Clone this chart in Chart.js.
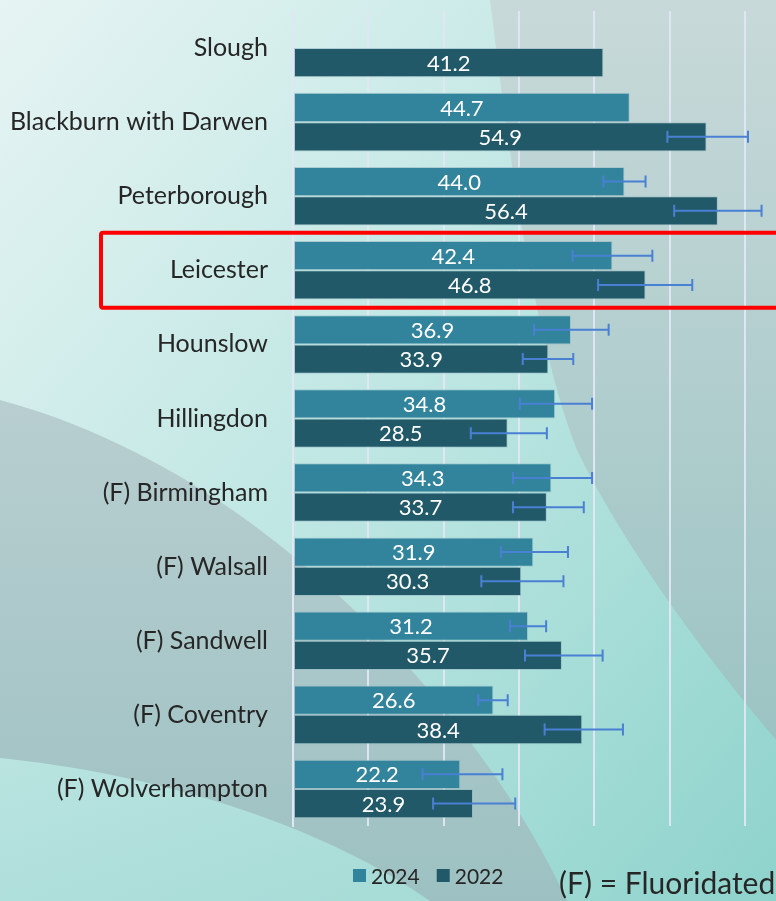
<!DOCTYPE html>
<html>
<head>
<meta charset="utf-8">
<script src="https://cdn.jsdelivr.net/npm/chart.js@4.4.1/dist/chart.umd.min.js"></script>
<style>
  html, body { margin: 0; padding: 0; }
  body { width: 776px; height: 901px; position: relative; overflow: hidden; font-family: Lato, sans-serif; }
  #bg, #chart { position: absolute; left: 0; top: 0; }
</style>
</head>
<body>
<svg id="bg" width="776" height="901" viewBox="0 0 776 901">
  <defs>
    <linearGradient id="base" x1="0" y1="0" x2="1" y2="1">
      <stop offset="0" stop-color="#e6f4f3"/>
      <stop offset="0.5" stop-color="#bde6e2"/>
      <stop offset="1" stop-color="#8ed3cc"/>
    </linearGradient>
    <linearGradient id="greyTop" x1="0" y1="0" x2="0" y2="1">
      <stop offset="0" stop-color="#c8d9d9"/>
      <stop offset="1" stop-color="#9cc3c3"/>
    </linearGradient>
    <linearGradient id="greyArc" x1="0" y1="0" x2="0" y2="1">
      <stop offset="0" stop-color="#b8ced0"/>
      <stop offset="1" stop-color="#9dc1c2"/>
    </linearGradient>
    <linearGradient id="lightArc" x1="0" y1="0" x2="1" y2="1">
      <stop offset="0" stop-color="#b9e4e0"/>
      <stop offset="1" stop-color="#a6dbd6"/>
    </linearGradient>
  </defs>
  <rect x="0" y="0" width="776" height="901" fill="url(#base)"/>
  <path d="M490,0 C505,120 530,330 577,450 C620,540 700,650 776,740 L776,0 Z" fill="url(#greyTop)"/>
  <path d="M0,400 C150,440 300,540 420,680 C480,750 530,820 567,901 L0,901 Z" fill="url(#greyArc)"/>
  <path d="M0,758 C120,770 300,810 430,901 L0,901 Z" fill="url(#lightArc)"/>
</svg>
<canvas id="chart" width="776" height="901"></canvas>
<script>
// Local authorities, top to bottom
const categories = [
  'Slough', 'Blackburn with Darwen', 'Peterborough', 'Leicester', 'Hounslow',
  'Hillingdon', '(F) Birmingham', '(F) Walsall', '(F) Sandwell', '(F) Coventry',
  '(F) Wolverhampton'
];

const values2024 = [null, 44.7, 44.0, 42.4, 36.9, 34.8, 34.3, 31.9, 31.2, 26.6, 22.2];
const values2022 = [41.2, 54.9, 56.4, 46.8, 33.9, 28.5, 33.7, 30.3, 35.7, 38.4, 23.9];

// confidence intervals
const low2024  = [null, null, 41.2, 37.1, 32.0, 30.1, 29.2, 27.6, 28.8, 24.6, 17.2];
const high2024 = [null, null, 46.8, 47.7, 41.9, 39.7, 39.7, 36.5, 33.6, 28.5, 27.8];
const low2022  = [null, 49.7, 50.6, 40.5, 30.5, 23.6, 29.2, 25.0, 30.8, 33.4, 18.6];
const high2022 = [null, 60.4, 62.2, 53.0, 37.2, 33.7, 38.6, 35.9, 41.1, 43.8, 29.5];

const xTicks = [0, 10, 20, 30, 40, 50, 60];
const highlighted = 'Leicester';

const COLORS = {
  y2024: '#31849b',
  y2022: '#215968',
  errorBar: '#4a80d4',
  grid: 'rgba(226, 230, 246, 0.95)',
  text: '#262626'
};

const FONT = 'Lato, "Open Sans", sans-serif';

// white value labels centered in each bar
const barLabels = {
  id: 'barLabels',
  afterDatasetsDraw(chart) {
    const ctx = chart.ctx;
    ctx.save();
    ctx.fillStyle = '#ffffff';
    ctx.font = '22px ' + FONT;
    ctx.textAlign = 'center';
    ctx.textBaseline = 'middle';
    chart.data.datasets.forEach((ds, i) => {
      chart.getDatasetMeta(i).data.forEach((bar, j) => {
        const v = ds.data[j];
        if (v == null) return;
        ctx.fillText(v.toFixed(1), (bar.x + bar.base) / 2, bar.y + 1);
      });
    });
    ctx.restore();
  }
};

// error bars with end caps
const errorBars = {
  id: 'errorBars',
  afterDatasetsDraw(chart) {
    const ctx = chart.ctx;
    const x = chart.scales.x;
    const ranges = [[low2024, high2024], [low2022, high2022]];
    ctx.save();
    ctx.strokeStyle = COLORS.errorBar;
    ctx.lineWidth = 2;
    chart.data.datasets.forEach((ds, i) => {
      const [lo, hi] = ranges[i];
      chart.getDatasetMeta(i).data.forEach((bar, j) => {
        if (lo[j] == null) return;
        const x1 = x.getPixelForValue(lo[j]);
        const x2 = x.getPixelForValue(hi[j]);
        const y = bar.y;
        ctx.beginPath();
        ctx.moveTo(x1, y); ctx.lineTo(x2, y);
        ctx.moveTo(x1, y - 6); ctx.lineTo(x1, y + 6);
        ctx.moveTo(x2, y - 6); ctx.lineTo(x2, y + 6);
        ctx.stroke();
      });
    });
    ctx.restore();
  }
};

// red box round the highlighted row, legend and footnote
const extras = {
  id: 'extras',
  afterDraw(chart) {
    const ctx = chart.ctx;
    const y = chart.scales.y;
    const idx = categories.indexOf(highlighted);
    const band = y.getPixelForValue(1) - y.getPixelForValue(0);
    const top = y.getPixelForValue(idx) - band / 2 - 0.5;
    ctx.save();
    ctx.strokeStyle = '#ff0000';
    ctx.lineWidth = 4;
    ctx.beginPath();
    ctx.roundRect(101, top, 700, band + 1, 2);
    ctx.stroke();

    // legend
    ctx.font = '21px ' + FONT;
    ctx.textBaseline = 'alphabetic';
    ctx.textAlign = 'left';
    let lx = 353;
    chart.data.datasets.forEach(ds => {
      ctx.fillStyle = ds.backgroundColor;
      ctx.fillRect(lx, 869, 13, 13);
      ctx.fillStyle = COLORS.text;
      ctx.fillText(ds.label, lx + 18, 884);
      lx += 18 + ctx.measureText(ds.label).width + 17;
    });

    ctx.font = '30px ' + FONT;
    ctx.fillText('(F) = Fluoridated', 559, 894);
    ctx.restore();
  }
};

new Chart(document.getElementById('chart'), {
  type: 'bar',
  data: {
    labels: categories,
    datasets: [
      {
        label: '2024',
        data: values2024,
        backgroundColor: COLORS.y2024,
        borderColor: 'rgba(150, 185, 195, 0.6)',
        borderWidth: 1,
        borderSkipped: false,
        categoryPercentage: 0.79,
        barPercentage: 1.0
      },
      {
        label: '2022',
        data: values2022,
        backgroundColor: COLORS.y2022,
        borderColor: 'rgba(150, 185, 195, 0.6)',
        borderWidth: 1,
        borderSkipped: false,
        categoryPercentage: 0.79,
        barPercentage: 1.0
      }
    ]
  },
  options: {
    indexAxis: 'y',
    responsive: false,
    animation: false,
    layout: {
      padding: { top: 11, right: 31, bottom: 75, left: 0 }
    },
    plugins: {
      legend: { display: false },
      tooltip: { enabled: false }
    },
    scales: {
      x: {
        min: xTicks[0],
        max: xTicks[xTicks.length - 1],
        afterBuildTicks: scale => { scale.ticks = xTicks.map(v => ({ value: v })); },
        afterFit: scale => { scale.height = 0; scale.paddingLeft = 0; scale.paddingRight = 0; },
        ticks: { display: false },
        grid: { color: COLORS.grid, lineWidth: 2, drawTicks: false },
        border: { display: false }
      },
      y: {
        afterFit: scale => { scale.width = 293; scale.paddingTop = 0; scale.paddingBottom = 0; },
        grid: { display: false, drawTicks: false },
        border: { display: true, color: COLORS.grid, width: 2 },
        ticks: {
          padding: 25,
          color: COLORS.text,
          font: { family: FONT, size: 25 }
        }
      }
    }
  },
  plugins: [barLabels, errorBars, extras]
});
</script>
</body>
</html>
